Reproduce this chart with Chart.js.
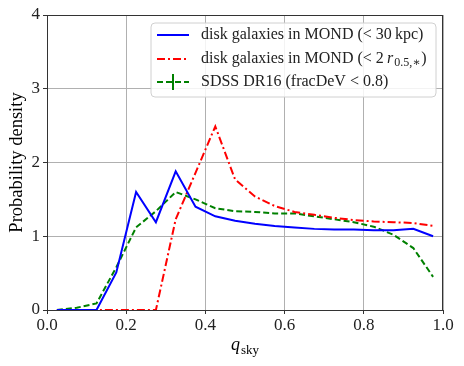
<!DOCTYPE html>
<html>
<head>
<meta charset="utf-8">
<script src="https://cdn.jsdelivr.net/npm/chart.js@4/dist/chart.umd.min.js"></script>
<style>
  html, body { margin: 0; padding: 0; background: #fff; }
  #wrap { width: 464px; height: 366px; }
</style>
</head>
<body>
<div id="wrap"><canvas id="chart" width="464" height="366"></canvas></div>
<script>
// bin centres of q_sky histogram
const binCenters = [0.025, 0.075, 0.125, 0.175, 0.225, 0.275, 0.325, 0.375, 0.425, 0.475,
  0.525, 0.575, 0.625, 0.675, 0.725, 0.775, 0.825, 0.875, 0.925, 0.975];

const mond30kpc = [0, 0, 0, 0.51, 1.60, 1.19, 1.88, 1.40, 1.27, 1.21,
  1.17, 1.14, 1.12, 1.10, 1.09, 1.09, 1.08, 1.08, 1.10, 1.00];

const mondHalfLight = [0, 0, 0, 0, 0, 0, 1.23, 1.86, 2.49, 1.77,
  1.54, 1.41, 1.33, 1.29, 1.25, 1.22, 1.20, 1.19, 1.18, 1.14];

const sdssDR16 = [0, 0.03, 0.09, 0.58, 1.12, 1.34, 1.60, 1.50, 1.38, 1.34,
  1.33, 1.31, 1.31, 1.27, 1.23, 1.19, 1.13, 1.02, 0.84, 0.45];

const xTicks = [0, 0.2, 0.4, 0.6, 0.8, 1.0];
const yTicks = [0, 1, 2, 3, 4];

const serif = "'Liberation Serif', 'DejaVu Serif', serif";
const toPoints = vals => binCenters.map((x, i) => ({ x: x, y: vals[i] }));

// matplotlib-like frame + legend + axis titles with subscripts
const decorations = {
  id: "decorations",
  afterDraw(chart) {
    const ctx = chart.ctx;
    const a = chart.chartArea;
    ctx.save();

    // frame
    ctx.strokeStyle = "#333";
    ctx.lineWidth = 1;
    ctx.strokeRect(a.left + 0.5, a.top + 0.5, a.right - a.left - 1, a.bottom - a.top);

    // x title: q_sky
    ctx.fillStyle = "#000";
    ctx.textBaseline = "alphabetic";
    ctx.font = "italic 18px " + serif;
    const qW = ctx.measureText("q").width;
    ctx.font = "13px " + serif;
    const subW = ctx.measureText("sky").width;
    const cx = (a.left + a.right) / 2;
    let x0 = cx - (qW + 1 + subW) / 2;
    ctx.font = "italic 18px " + serif;
    ctx.fillText("q", x0, 350);
    ctx.font = "13px " + serif;
    ctx.fillText("sky", x0 + qW + 1, 354);

    // y title
    ctx.save();
    ctx.translate(22, (a.top + a.bottom) / 2);
    ctx.rotate(-Math.PI / 2);
    ctx.textAlign = "center";
    ctx.font = "18.5px " + serif;
    ctx.fillText("Probability density", 0, 0);
    ctx.restore();

    // legend box
    const bx = 151, by = 23, bw = 285, bh = 74, r = 4;
    ctx.beginPath();
    ctx.moveTo(bx + r, by);
    ctx.arcTo(bx + bw, by, bx + bw, by + bh, r);
    ctx.arcTo(bx + bw, by + bh, bx, by + bh, r);
    ctx.arcTo(bx, by + bh, bx, by, r);
    ctx.arcTo(bx, by, bx + bw, by, r);
    ctx.closePath();
    ctx.fillStyle = "rgba(255,255,255,0.85)";
    ctx.fill();
    ctx.strokeStyle = "#d0d0d0";
    ctx.stroke();

    const rows = [35, 59, 82];
    const lx0 = 157, lx1 = 189, tx = 201;
    chart.data.datasets.forEach((ds, i) => {
      ctx.beginPath();
      ctx.setLineDash(ds.borderDash || []);
      ctx.strokeStyle = ds.borderColor;
      ctx.lineWidth = ds.borderWidth;
      ctx.moveTo(lx0, rows[i]);
      ctx.lineTo(lx1, rows[i]);
      ctx.stroke();
    });
    ctx.setLineDash([]);
    // errorbar cross on SDSS handle
    ctx.strokeStyle = "#008000";
    ctx.lineWidth = 2;
    ctx.beginPath();
    ctx.moveTo(173, rows[2] - 8);
    ctx.lineTo(173, rows[2] + 8);
    ctx.stroke();

    ctx.fillStyle = "#222";
    ctx.font = "16px " + serif;
    ctx.textBaseline = "middle";
    ctx.fillText("disk galaxies in MOND (< 30\u2009kpc)", tx, rows[0]);
    let t = "disk galaxies in MOND (< 2\u2009";
    ctx.fillText(t, tx, rows[1]);
    let px = tx + ctx.measureText(t).width;
    ctx.font = "italic 16px " + serif;
    ctx.fillText("r", px, rows[1]);
    px += ctx.measureText("r").width + 1;
    ctx.font = "12px " + serif;
    ctx.fillText("0.5,\u2217", px, rows[1] + 4);
    px += ctx.measureText("0.5,\u2217").width + 1;
    ctx.font = "16px " + serif;
    ctx.fillText(")", px, rows[1]);
    ctx.fillText("SDSS DR16 (fracDeV < 0.8)", tx, rows[2]);

    ctx.restore();
  }
};

new Chart(document.getElementById("chart"), {
  type: "line",
  data: {
    datasets: [
      {
        label: "disk galaxies in MOND (< 30 kpc)",
        data: toPoints(mond30kpc),
        borderColor: "#0000ff",
        borderWidth: 2,
        pointRadius: 0,
        tension: 0
      },
      {
        label: "disk galaxies in MOND (< 2 r0.5,*)",
        data: toPoints(mondHalfLight),
        borderColor: "#ff0000",
        borderWidth: 2,
        borderDash: [8, 3, 2, 3],
        pointRadius: 0,
        tension: 0
      },
      {
        label: "SDSS DR16 (fracDeV < 0.8)",
        data: toPoints(sdssDR16),
        borderColor: "#008000",
        borderWidth: 2,
        borderDash: [6, 3],
        pointRadius: 0,
        tension: 0
      }
    ]
  },
  options: {
    responsive: false,
    animation: false,
    layout: { padding: { top: 15, right: 21, left: 0, bottom: 0 } },
    plugins: { legend: { display: false }, tooltip: { enabled: false } },
    scales: {
      x: {
        type: "linear",
        min: 0,
        max: 1,
        afterBuildTicks: s => { s.ticks = xTicks.map(v => ({ value: v })); },
        afterFit: s => { s.height = 56; },
        ticks: {
          color: "#222",
          font: { family: serif, size: 17 },
          padding: 1,
          callback: v => v.toFixed(1),
          maxRotation: 0
        },
        grid: { color: "#b0b0b0", lineWidth: 1, tickLength: 4, tickColor: "#333" },
        border: { color: "#333" }
      },
      y: {
        min: 0,
        max: 4,
        afterBuildTicks: s => { s.ticks = yTicks.map(v => ({ value: v })); },
        afterFit: s => { s.width = 47; },
        ticks: {
          color: "#222",
          font: { family: serif, size: 17 },
          padding: 3,
          callback: v => String(v)
        },
        grid: { color: "#b0b0b0", lineWidth: 1, tickLength: 4, tickColor: "#333" },
        border: { color: "#333" }
      }
    }
  },
  plugins: [decorations]
});
</script>
</body>
</html>
